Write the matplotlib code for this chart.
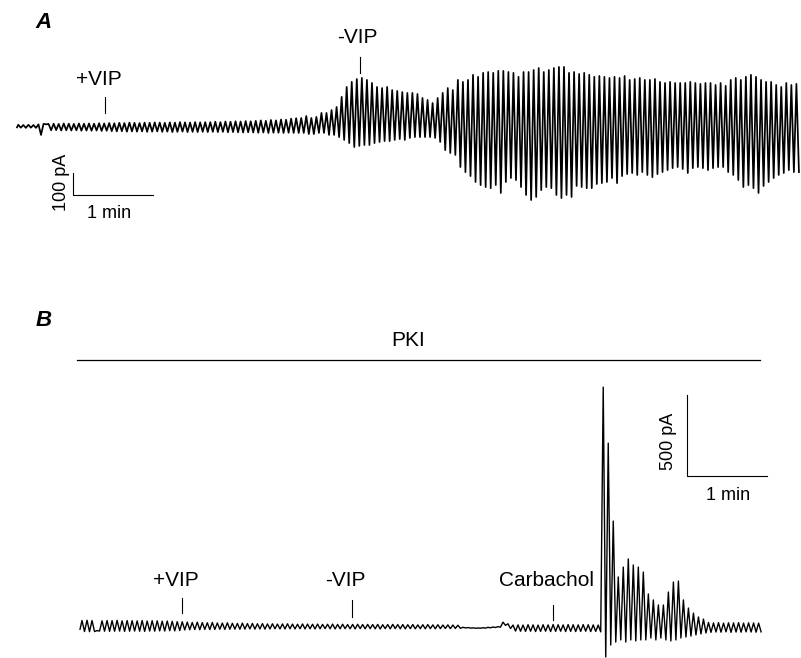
import numpy as np
import matplotlib
matplotlib.use("Agg")
import matplotlib.pyplot as plt

plt.rcParams['font.family'] = ['Liberation Sans', 'DejaVu Sans']

# ---- Panel A: current per oscillation cycle (pA), trace length in min ----
A_DURATION = 9.79
A_PEAK = [10, 9, 10, 9,
          12,
          14,
          14, 15, 14, 16, 15, 14, 16, 15, 16, 15, 17, 16,
          18, 17, 19, 18, 20, 19, 18, 20, 19, 21, 20, 19, 21, 20, 22, 21, 20, 22, 21, 22,
          22, 24, 22, 25, 24, 26, 25, 27, 26, 28, 30, 28, 32, 30, 34, 33, 38, 40,
          41, 50, 41, 46, 64, 64, 77, 91, 137, 182, 205, 218, 223, 214, 200, 182, 177, 182,
          168, 164, 159, 155, 155, 150, 132, 123, 109, 132, 155, 177, 168,
          214, 205, 214, 237, 228, 246, 250, 246, 255, 255, 250, 246, 228, 250, 250, 259,
          268, 250, 259, 268, 273, 273, 246, 250, 241, 246, 237, 228, 232, 228, 223, 228,
          223, 232, 214, 218, 223, 214, 214, 218, 205, 200, 205, 200, 200, 200, 205, 200,
          196, 200, 200, 191, 200, 187, 214, 223, 214, 228, 237, 228, 214, 205, 205, 191,
          182, 200, 191, 196]
A_TROUGH = [-3, -4, -3, -4,
            -36,
            12,
            -15, -14, -16, -15, -16, -15, -17, -16, -17, -16, -18, -17,
            -19, -20, -19, -21, -20, -21, -20, -22, -21, -20, -22, -21, -23, -22, -21, -23,
            -22, -23, -22, -23,
            -22, -23, -22, -24, -23, -24, -25, -24, -25, -26, -25, -27, -26, -26, -27, -26,
            -27, -27,
            -27, -32, -32, -27, -27, -36, -36, -46, -59, -73, -91, -86, -82, -82, -73, -68,
            -64, -64, -59, -55, -59, -50, -46, -46, -46, -46, -50, -68, -105, -118, -127,
            -182, -205, -223, -250, -264, -273, -278, -264, -300, -250, -232, -241, -273,
            -309, -332, -318, -287, -273, -278, -309, -323, -309, -318, -268, -273, -278,
            -278, -259, -255, -250, -232, -255, -223, -214, -209, -218, -205, -218, -228,
            -214, -205, -196, -187, -182, -191, -209, -187, -182, -187, -196, -187, -182,
            -182, -205, -218, -241, -273, -264, -278, -300, -268, -250, -232, -218, -209,
            -196, -205, -205]
A_EVENTS = ["+VIP", "-VIP"]
A_EVENT_TIMES = [1.10, 4.29]

# ---- Panel B ----
B_DURATION = 8.52
B_PEAK = [40, 42, 40,
          -22,
          38, 40, 39, 41, 38, 40, 39, 38, 40, 37, 39, 38, 36, 37, 35, 33,
          32, 30, 28, 30, 27, 26, 28, 25, 24, 26, 23, 22, 24, 21, 22, 20, 21, 19, 20, 18,
          19, 20, 18, 17, 19, 18, 17, 18, 16, 17, 18, 16, 17, 15, 16, 17, 15, 16, 15, 16,
          14, 15, 16, 15,
          15, 14, 15, 13, 14, 15, 13, 14, 12, 13, 12, 11,
          -2, -3, -5, -6, -4, -2, 0, 2,
          30, 20,
          12, 13, 12, 14, 13, 12, 14, 13, 15, 14, 13, 15, 14, 13, 15, 14, 13, 12,
          1481, 1135, 654, 309, 370, 420, 383, 370, 339, 204, 167, 136, 136, 216, 278, 284,
          167, 117, 86, 62, 49,
          28, 25, 27, 24, 26, 25, 27, 24, 26, 25, 24]
B_TROUGH = [-28, -29, -28,
            -25,
            -26, -27, -26, -25, -27, -26, -25, -26, -27, -25, -26, -24, -25, -23, -24, -22,
            -18, -17, -16, -17, -15, -16, -15, -14, -15, -14, -13, -14, -13, -12, -13, -12,
            -13, -12, -11, -12, -12, -11, -12, -11, -12, -11, -12, -11, -10, -11, -12, -11,
            -10, -11, -12, -10, -11, -10, -11, -12, -10, -11, -10, -11,
            -11, -10, -11, -10, -11, -10, -11, -10, -9, -10, -9, -8,
            -6, -7, -8, -8, -7, -5, -3, -1,
            10, -10,
            -25, -26, -27, -26, -28, -27, -26, -28, -27, -26, -28, -27, -28, -27, -26, -28,
            -27, -30,
            -185, -111, -93, -80, -93, -80, -86, -80, -80, -68, -80, -68, -80, -86, -80, -68,
            -62, -56, -49, -43, -37,
            -33, -31, -32, -30, -33, -31, -32, -30, -31, -32, -30]
B_EVENTS = ["+VIP", "-VIP", "Carbachol"]
B_EVENT_TIMES = [1.275, 3.40, 5.91]


def build_trace(duration, peaks, troughs, n=6, phase=0.4):
    # one peak and one trough per cycle, joined by half-cosine segments
    period = duration / len(peaks)
    ext_t = [0.0]
    ext_y = [troughs[0] * 0.5]
    for i, (p, q) in enumerate(zip(peaks, troughs)):
        ext_t += [(i + phase) * period, (i + phase + 0.5) * period]
        ext_y += [p, q]
    s = (1 - np.cos(np.linspace(0, np.pi, n)[:-1])) / 2
    t_out, y_out = [], []
    for k in range(len(ext_t) - 1):
        t_out.extend(ext_t[k] + (ext_t[k + 1] - ext_t[k]) * s)
        y_out.extend(ext_y[k] + (ext_y[k + 1] - ext_y[k]) * s)
    t_out.append(ext_t[-1])
    y_out.append(ext_y[-1])
    return np.array(t_out), np.array(y_out)


W, H = 801, 658
fig = plt.figure(figsize=(W / 100, H / 100), dpi=100)
FS = 15
FS_SCALE = 13

# panel A: trace starts at px 17, baseline at px 127, 80 px/min, 22 px/100 pA
axA = fig.add_axes([0, 0, 1, 1])
axA.patch.set_alpha(0)
a_px = 100 / 22
axA.set_xlim(-17 / 80, (W - 17) / 80)
axA.set_ylim((127 - H) * a_px, 127 * a_px)
axA.axis('off')

t, y = build_trace(A_DURATION, A_PEAK, A_TROUGH, phase=0.25)
axA.plot(t, y, color='black', lw=1.25)
a_marks = [(64, 136, 218, -0.08), (245, 318, 409, -0.04)]
for label, te, (y0, y1, yl, dx) in zip(A_EVENTS, A_EVENT_TIMES, a_marks):
    axA.plot([te, te], [y0, y1], color='black', lw=0.8)
    axA.text(te + dx, yl, label, ha='center', va='center', fontsize=FS)

# scale bar A
axA.plot([0.7, 0.7, 1.7], [-209, -309, -309], color='black', lw=0.8)
axA.text(0.55, -250, "100 pA", rotation=90, ha='center', va='center', fontsize=FS_SCALE)
axA.text(1.15, -391, "1 min", ha='center', va='center', fontsize=FS_SCALE)

# panel B: trace starts at px 80, baseline at px 627, 80 px/min, 81 px/500 pA
axB = fig.add_axes([0, 0, 1, 1])
axB.patch.set_alpha(0)
b_px = 500 / 81
axB.set_xlim(-80 / 80, (W - 80) / 80)
axB.set_ylim((627 - H) * b_px, 627 * b_px)
axB.axis('off')

t, y = build_trace(B_DURATION, B_PEAK, B_TROUGH, phase=0.4)
axB.plot(t, y, color='black', lw=1.0)
b_marks = [(86, 179), (62, 167), (43, 136)]
for label, te, (y0, y1) in zip(B_EVENTS, B_EVENT_TIMES, b_marks):
    axB.plot([te, te], [y0, y1], color='black', lw=0.8)
    axB.text(te - 0.08, 290, label, ha='center', va='center', fontsize=FS)

# PKI bar
axB.plot([-0.04, 8.5], [1647, 1647], color='black', lw=0.9)
axB.text(4.1, 1771, "PKI", ha='center', va='center', fontsize=FS)

# scale bar B
axB.plot([7.59, 7.59, 8.59], [1432, 932, 932], color='black', lw=0.8)
axB.text(7.36, 1148, "500 pA", rotation=90, ha='center', va='center', fontsize=FS_SCALE)
axB.text(8.1, 814, "1 min", ha='center', va='center', fontsize=FS_SCALE)

# panel letters
fig.text(44 / W, 1 - 22 / H, "A", fontsize=16, fontweight='bold', fontstyle='italic',
         ha='center', va='center')
fig.text(44 / W, 1 - 321 / H, "B", fontsize=16, fontweight='bold', fontstyle='italic',
         ha='center', va='center')

fig.savefig("out.png", dpi=100)
